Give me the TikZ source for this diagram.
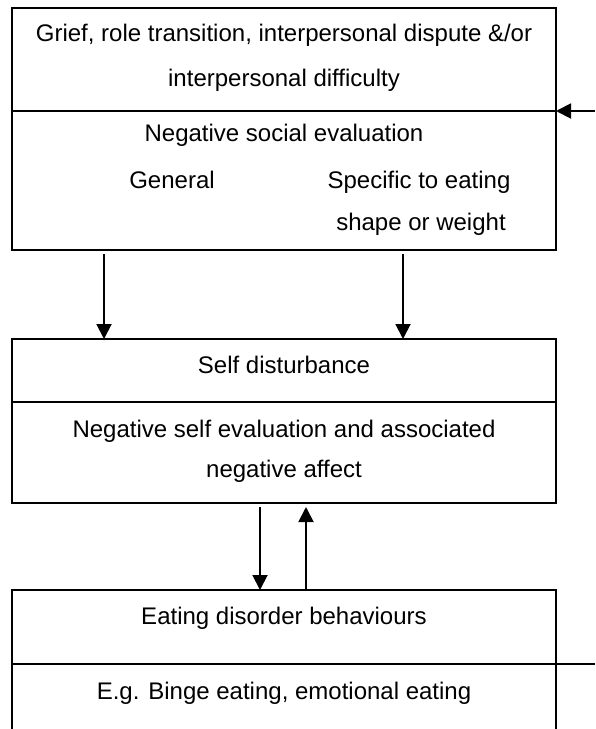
\documentclass[tikz,border=0pt]{standalone}
\usepackage{fontspec}
\setmainfont{Liberation Sans}
\usetikzlibrary{arrows.meta}
\tikzset{box/.style={draw, line width=1.1pt, minimum width=544pt, inner sep=0pt, outer sep=0pt, anchor=north west},
lbl/.style={anchor=base, inner sep=0pt, font=\fontsize{24}{28}\selectfont},
%filled arrow heads as in the model
arr/.style={line width=1.9pt, -{Triangle[length=15pt,width=15pt]}}}

\begin{document}
\begin{tikzpicture}[x=1pt,y=-1pt]

    \useasboundingbox (0,0) rectangle (595,729);

    \node[box, minimum height=103pt] (grief) at (12,8) {};
    \node[box, minimum height=139pt] (social) at (12,111) {};
    \node[box, minimum height=63pt] (self) at (12,339) {};
    \node[box, minimum height=101pt] (affect) at (12,402) {};
    \node[box, minimum height=74pt] (eat) at (12,590) {};

    \coordinate (a) at (104,0);
    \coordinate (b) at (403,0);
    \coordinate (c) at (260,0);
    \coordinate (d) at (306,0);
    \coordinate (in) at (595,111);
    \coordinate (out) at (595,664);
    \coordinate (foot) at (0,729);


    \node[lbl] (t1) at (284,41) {Grief, role transition, interpersonal dispute \&/or};
    \node[lbl] (t2) at (284,86) {interpersonal difficulty};
    \node[lbl] (t3) at (284,141) {Negative social evaluation};
    \node[lbl] (t4) at (172,188) {General};
    \node[lbl] (t5) at (419,188) {Specific to eating};
    \node[lbl] (t6) at (421,230) {shape or weight};
    \node[lbl] (t7) at (284,373) {Self disturbance};
    \node[lbl] (t8) at (284,437) {Negative self evaluation and associated};
    \node[lbl] (t9) at (284,477) {negative affect};
    \node[lbl] (t10) at (284,624) {Eating disorder behaviours};
    \node[lbl] (t11) at (284,699) {E.g. Binge eating, emotional eating};

    \foreach \i in {a,b}
    \draw[arr] ([yshift=-4pt]social.south -| \i) -- (self.north -| \i);

    \draw[arr] ([yshift=-4pt]affect.south -| c) -- (eat.north -| c);
    \draw[arr] (eat.north -| d) -- ([yshift=-4pt]affect.south -| d);

    \draw[arr] (in) -- (grief.south east);

    \draw[line width=1.1pt] (eat.south west) -- (eat.south west |- foot);
    \draw[line width=1.1pt] (eat.south east) -- (eat.south east |- foot);
    \draw[line width=1.9pt] (eat.south east) -- (out);

  \end{tikzpicture}
\end{document}
